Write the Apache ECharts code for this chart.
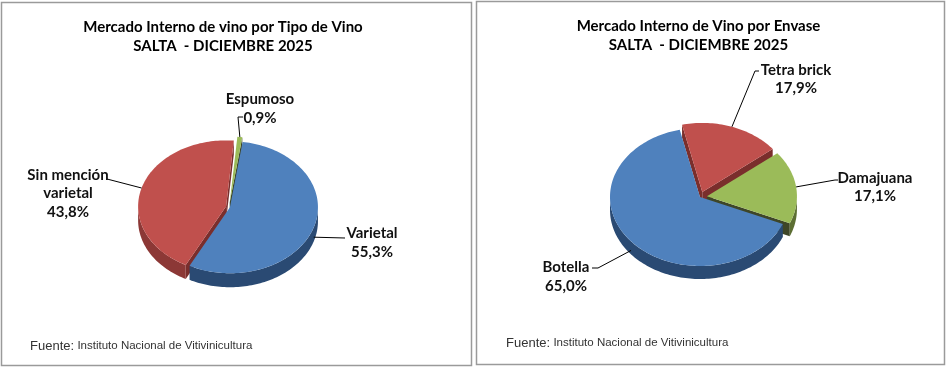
<!DOCTYPE html>
<html><head><meta charset="utf-8">
<script src="https://cdn.jsdelivr.net/npm/echarts@6/dist/echarts.min.js"></script>
<style>html,body{margin:0;padding:0;background:#fff}#c{width:946px;height:367px}</style>
</head><body><div id="c"></div>
<script>
// ---- data ----
const tipoCategorias = ['Espumoso', 'Varietal', 'Sin mención varietal'];
const tipoValores = [0.9, 55.3, 43.8];
const envaseCategorias = ['Tetra brick', 'Damajuana', 'Botella'];
const envaseValores = [17.9, 17.1, 65.0];
const tituloTipo = ['Mercado Interno de vino por Tipo de Vino', 'SALTA  - DICIEMBRE 2025'];
const tituloEnvase = ['Mercado Interno de Vino por Envase', 'SALTA  - DICIEMBRE 2025'];
const fuenteTexto = ['Fuente:', 'Instituto Nacional de Vitivinicultura'];

// ---- styles ----
const BOLD = 'bold 15px Lato, "Liberation Sans", sans-serif';
const C = {
  blue:  {top:'#4F81BD', wall:'#2A4A73', face:'#243F63'},
  red:   {top:'#C0504D', wall:'#8C3836', face:'#7A2E2C'},
  green: {top:'#9BBB59', wall:'#5C6E33', face:'#3E4628'}
};
const layoutTipo = {
  cx:229, cy:207, rx:88, ry:66, depth:14, start:5, explode:[6,1,3],
  colors:[C.green, C.blue, C.red],
  labels:[
    {x:260, y:108.5, wrap:false, line:[[238,117],[243,117]]},
    {x:372, y:242.5, wrap:false, line:[[345,238]]},
    {x:68,  y:193.5, wrap:true,  line:[[107,179]]}
  ]
};
const layoutEnvase = {
  cx:700, cy:197, rx:90, ry:69, depth:13, start:-13, explode:[7,7,0],
  colors:[C.red, C.green, C.blue],
  labels:[
    {x:796, y:79,  wrap:false, line:[[755,71],[759,71]]},
    {x:875, y:187, wrap:false, line:[[835,180],[838,180]]},
    {x:566, y:276.5, wrap:false, line:[[598,268],[592,268]]}
  ]
};

function fmt(v){ return v.toFixed(1).replace('.', ',') + '%'; }

function makeSeries(cats, vals, L) {
  const total = vals.reduce((a,b)=>a+b,0);
  const ang = []; let acc = L.start;
  vals.forEach(v => { const a = v/total*360; ang.push([acc, acc+a]); acc += a; });
  const rad = d => d*Math.PI/180;
  return {
    type:'custom', coordinateSystem:'none', silent:true,
    data: vals.map((v,i)=>({name:cats[i], value:v})),
    renderItem(params, api) {
      const i = params.dataIndex;
      const v = api.value(0);
      const [s,e] = ang[i]; const m = (s+e)/2;
      const ex = L.explode[i];
      const ox = L.cx + ex*Math.sin(rad(m));
      const oy = L.cy - ex*(L.ry/L.rx)*Math.cos(rad(m));
      const P = (t,dz) => [ox + L.rx*Math.sin(rad(t)), oy - L.ry*Math.cos(rad(t)) + (dz||0)];
      const arc = (a,b,dz) => { const pts=[]; const n=Math.max(2,Math.ceil(Math.abs(b-a)/1.5)); for(let k=0;k<=n;k++) pts.push(P(a+(b-a)*k/n,dz)); return pts; };
      const col = L.colors[i];
      const ch = [];
      if (Math.sin(rad(s)) < 0) ch.push({type:'polygon', z2:1, shape:{points:[[ox,oy],P(s),P(s,L.depth),[ox,oy+L.depth]]}, style:{fill:col.face}});
      if (Math.sin(rad(e)) > 0) ch.push({type:'polygon', z2:1, shape:{points:[[ox,oy],P(e),P(e,L.depth),[ox,oy+L.depth]]}, style:{fill:col.face}});
      for (let k=-1;k<=1;k++){
        const lo = Math.max(s, 90+360*k), hi = Math.min(e, 270+360*k);
        if (hi > lo) ch.push({type:'polygon', z2:2, shape:{points: arc(lo,hi,0).concat(arc(hi,lo,L.depth))}, style:{fill:col.wall}});
      }
      ch.push({type:'polygon', z2:10, shape:{points:[[ox,oy]].concat(arc(s,e,0))}, style:{fill:col.top}});
      const lab = L.labels[i];
      let name = cats[i];
      if (lab.wrap) { const p = name.lastIndexOf(' '); name = name.slice(0,p) + '\n' + name.slice(p+1); }
      const rim = P(m, Math.cos(rad(m)) < 0 ? L.depth*0.7 : 0);
      ch.push({type:'polyline', z2:15, shape:{points:[rim].concat(lab.line)}, style:{stroke:'#000', lineWidth:1, fill:null}});
      ch.push({type:'text', z2:20, x:lab.x, y:lab.y, style:{text: name + '\n' + fmt(v), fill:'#111', font:BOLD, align:'center', verticalAlign:'middle', lineHeight:18.5}});
      return {type:'group', children:ch};
    }
  };
}

function footer(x, y) {
  return {type:'text', x:x, y:y, style:{
    text:'{a|' + fuenteTexto[0] + '} {b|' + fuenteTexto[1] + '}',
    verticalAlign:'middle',
    rich:{a:{font:'13px "Liberation Sans", sans-serif', fill:'#333'}, b:{font:'11.5px "Liberation Sans", sans-serif', fill:'#333'}}
  }};
}

const chart = echarts.init(document.getElementById('c'), null, {renderer:'canvas'});
chart.setOption({
  animation:false,
  backgroundColor:'#fff',
  graphic:[
    {type:'rect', shape:{x:1.5, y:2.5, width:470, height:363}, style:{fill:'none', stroke:'#9a9a9a', lineWidth:1.5}},
    {type:'rect', shape:{x:476.5, y:1.5, width:468, height:363}, style:{fill:'none', stroke:'#9a9a9a', lineWidth:1.5}},
    {type:'text', x:223, y:37, style:{text:tituloTipo.join('\n'), font:BOLD, fill:'#000', align:'center', verticalAlign:'middle', lineHeight:19}},
    {type:'text', x:698.5, y:35.5, style:{text:tituloEnvase.join('\n'), font:BOLD, fill:'#000', align:'center', verticalAlign:'middle', lineHeight:19}},
    footer(30, 346),
    footer(506, 343)
  ],
  series:[
    makeSeries(tipoCategorias, tipoValores, layoutTipo),
    makeSeries(envaseCategorias, envaseValores, layoutEnvase)
  ]
});
</script>
</body></html>
